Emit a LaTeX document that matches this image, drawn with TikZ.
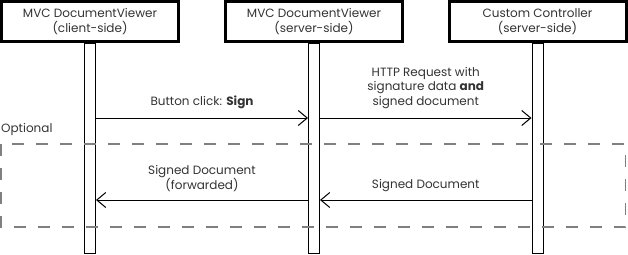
\documentclass[tikz,border=0pt]{standalone}
\usepackage{fontspec}
\setmainfont{Poppins}
\usetikzlibrary{arrows.meta, positioning}
\definecolor{framegray}{HTML}{808080}
\definecolor{txtgray}{HTML}{333333}

\begin{document}
\begin{tikzpicture}[
  x=1pt, y=-1pt,
  >={Straight Barb[length=9pt, width=15pt]},
  party/.style={rectangle, draw=black, line width=3pt,
    minimum width=177pt, minimum height=40pt, inner sep=0pt,
    align=center, text=txtgray, font=\fontsize{12}{14.5}\selectfont},
  bar/.style={rectangle, draw=black, fill=white, line width=1pt,
    minimum width=11pt, minimum height=210pt, inner sep=0pt},
  msg/.style={->, line width=1pt},
  mlabel/.style={align=center, inner sep=0pt, text=txtgray,
    font=\fontsize{12}{14.5}\selectfont},
  optframe/.style={draw=framegray, line width=1.5pt, dash pattern=on 12pt off 12pt}
]
\useasboundingbox (0,0) rectangle (628,254);

% ---- Participants ----
\node[party] (viewerclient) at (90,21.5) {MVC DocumentViewer\\(client-side)};
\node[party] (viewerserver) at (314,21.5) {MVC DocumentViewer\\(server-side)};
\node[party] (controller) at (537.5,21.5) {Custom Controller\\(server-side)};

% ---- Activation bars ----
\node[bar, below=0pt of viewerclient] (bar1) {};
\node[bar, below=0pt of viewerserver] (bar2) {};
\node[bar, below=0pt of controller] (bar3) {};

\coordinate (req) at (0,118);
\coordinate (resp) at (0,200);

% ---- Requests ----
\draw[msg] (bar1.east |- req) -- (bar2.west |- req)
  node[midway, above=9pt, mlabel] {Button click: \textbf{Sign}};
\draw[msg] (bar2.east |- req) -- (bar3.west |- req)
  node[midway, above=9pt, mlabel] {HTTP Request with\\signature data \textbf{and}\\signed document};

% ---- Responses ----
\draw[msg] (bar3.west |- resp) -- (bar2.east |- resp)
  node[midway, above=8pt, mlabel] {Signed Document};
\draw[msg] (bar2.west |- resp) -- (bar1.east |- resp)
  node[midway, above=8pt, mlabel] {Signed Document\\(forwarded)};

% ---- Optional frame ----
\draw[optframe] (1,144) rectangle (625.5,227);
\node[mlabel, anchor=west] (optlabel) at (1,129) {Optional};

\end{tikzpicture}
\end{document}
